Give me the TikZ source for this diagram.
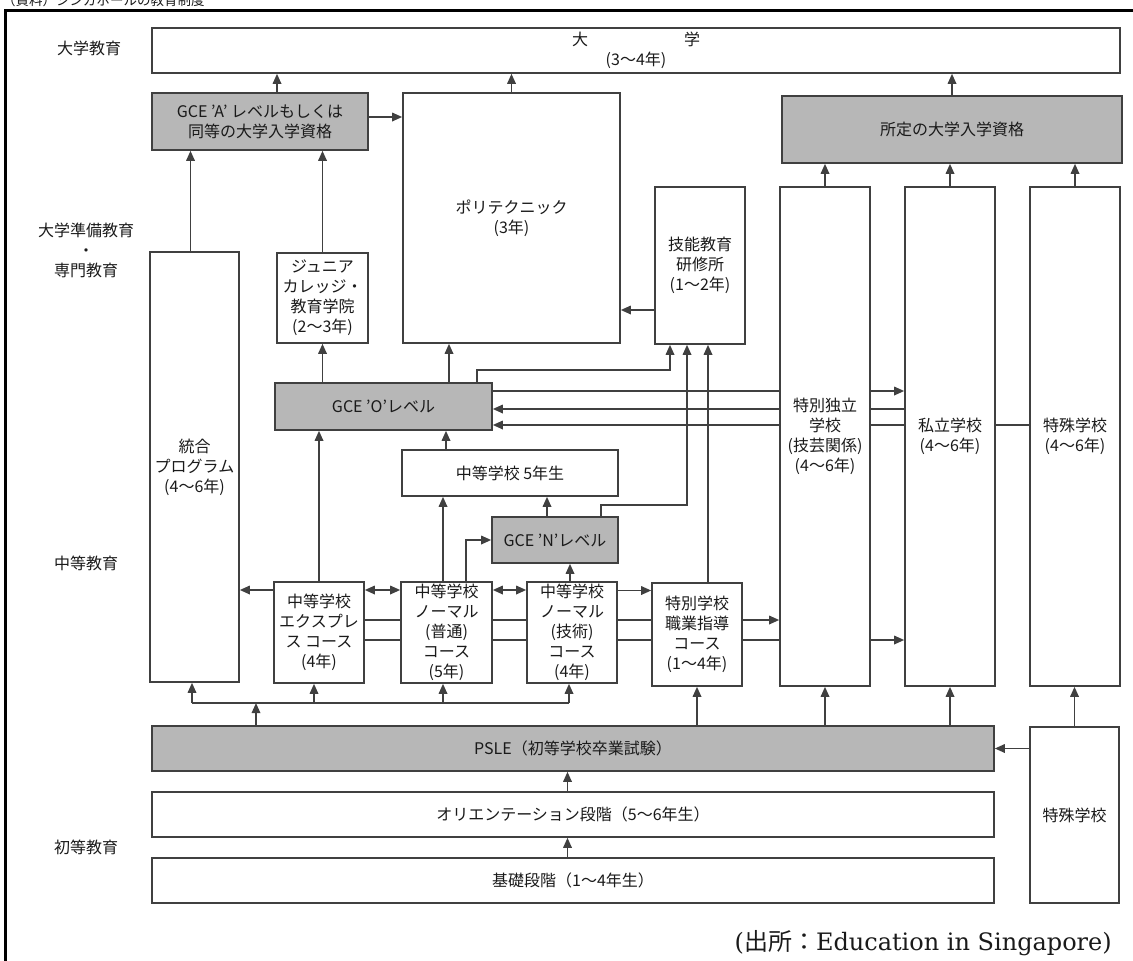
\documentclass[tikz,border=0pt]{standalone}
\usepackage{fontspec}
\setmainfont{Noto Sans CJK JP}
\newfontfamily\serifjp{DejaVu Serif}
\usetikzlibrary{arrows.meta}
\pgfdeclarelayer{bg}
\pgfsetlayers{bg,main}
\definecolor{ln}{HTML}{404040}
\definecolor{gfill}{HTML}{B7B7B7}
\definecolor{tx}{HTML}{1A1A1A}
\tikzset{
 box/.style={draw=ln, line width=1.6pt, fill=white, inner sep=0pt, align=center, text=tx, font=\fontsize{16}{20}\selectfont},
 gbox/.style={box, fill=gfill},
 wh/.style 2 args={minimum width=#1pt, minimum height=#2pt},
 conn/.style={draw=ln, line width=1.7pt},
 arr/.style={conn, -{Triangle[length=10pt,width=8.5pt]}},
 darr/.style={conn, {Triangle[length=10pt,width=8.5pt]}-{Triangle[length=10pt,width=8.5pt]}},
 lab/.style={text=tx, font=\fontsize{16}{20}\selectfont, inner sep=0pt, align=center},
}
\begin{document}
\begin{tikzpicture}[x=1pt,y=-1pt]
\useasboundingbox (0,0) rectangle (1133,961);
\clip (0,0) rectangle (1133,961);
\node[lab, anchor=west, font=\fontsize{13.5}{14}\selectfont] (cap) at (2,0) {（資料）シンガポールの教育制度};
\draw[line width=3pt, black] (5,975) -- (5,10) -- (1145,10);

% left labels
\node[lab] (l1) at (89,48) {大学教育};
\node[lab] (l2) at (86,250) {大学準備教育\\・\\専門教育};
\node[lab] (l3) at (86,563) {中等教育};
\node[lab] (l4) at (86,847) {初等教育};
\node[lab, anchor=east, font=\fontsize{24}{25}\selectfont] (src) at (1112,943) {{\serifjp (}出所：{\serifjp Education in Singapore)}};

% boxes
\node[box, wh={968}{45}] (univ) at (636,50.5) {大\hspace{96pt}学\\(3〜4年)};
\node[gbox, wh={216}{57}] (gceA) at (260,121.5) {GCE 'A' レベルもしくは\\同等の大学入学資格};
\node[box, wh={217}{250}] (poly) at (511.5,218) {ポリテクニック\\(3年)};
\node[box, wh={90}{157}] (ginou) at (700,265.5) {技能教育\\研修所\\(1〜2年)};
\node[gbox, wh={340}{67}] (shotei) at (952,129.5) {所定の大学入学資格};
\node[box, wh={90}{499}] (tokub) at (825,436.5) {特別独立\\学校\\(技芸関係)\\(4〜6年)};
\node[box, wh={90}{499}] (shir) at (950,436.5) {私立学校\\(4〜6年)};
\node[box, wh={90}{499}] (toku) at (1075,436.5) {特殊学校\\(4〜6年)};
\node[box, wh={91}{90}] (jc) at (322.5,298) {ジュニア\\カレッジ・\\教育学院\\(2〜3年)};
\node[box, wh={89}{430}] (tougou) at (194.5,467) {統合\\プログラム\\(4〜6年)};
\node[gbox, wh={217}{47}] (gceO) at (383.5,406.5) {GCE 'O'レベル};
\node[box, wh={216}{46}] (five) at (510,473) {中等学校 5年生};
\node[gbox, wh={126}{46}] (gceN) at (555,540) {GCE 'N'レベル};
\node[box, wh={90}{101}] (exp) at (319,632.5) {中等学校\\エクスプレ\\ス コース\\(4年)};
\node[box, wh={91}{101}] (na) at (446.5,632.5) {中等学校\\ノーマル\\(普通)\\コース\\(5年)};
\node[box, wh={90}{101}] (nt) at (572,632.5) {中等学校\\ノーマル\\(技術)\\コース\\(4年)};
\node[box, wh={90}{103}] (tokuG) at (697,634.5) {特別学校\\職業指導\\コース\\(1〜4年)};
\node[gbox, wh={842}{45}] (psle) at (573,748.5) {PSLE（初等学校卒業試験）};
\node[box, wh={842}{45}] (ori) at (573,814.5) {オリエンテーション段階（5〜6年生）};
\node[box, wh={842}{45}] (kiso) at (573,880.5) {基礎段階（1〜4年生）};
\node[box, wh={89}{176}] (tsmall) at (1074.5,815) {特殊学校};

\coordinate (bus) at (0,703);

\begin{pgfonlayer}{bg}
\draw[arr] ([xshift=17pt]gceA.north) -- ([xshift=17pt]gceA.north |- univ.south);
\draw[arr] ([yshift=4.5pt]gceA.east) -- ([yshift=4.5pt]gceA.east -| poly.west);
\draw[arr] (poly.north) -- (poly.north |- univ.south);
\draw[arr] (shotei.north) -- (shotei.north |- univ.south);
\draw[arr] (tokub.north) -- (tokub.north |- shotei.south);
\draw[arr] (shir.north) -- (shir.north |- shotei.south);
\draw[arr] (toku.north) -- (toku.north |- shotei.south);
\draw[arr] ([xshift=-4pt]tougou.north) -- ([xshift=-4pt]tougou.north |- gceA.south);
\draw[arr] (jc.north) -- (jc.north |- gceA.south);
\draw[arr] (jc.south |- gceO.north) -- (jc.south);
\draw[arr] ([xshift=65.5pt]gceO.north) -- ([xshift=65.5pt]gceO.north |- poly.south);
\draw[arr] ([yshift=-44.5pt]ginou.west) -- ([yshift=-44.5pt]ginou.west -| poly.east);
\draw[arr] ([xshift=93.5pt]gceO.north) -- ++(0,-12) -| ([xshift=-30pt]ginou.south);
\draw[arr] ([xshift=46pt]gceN.north) -- ++(0,-11) -| ([xshift=-13pt]ginou.south);
\draw[arr] ([xshift=8pt]ginou.south |- tokuG.north) -- ([xshift=8pt]ginou.south);
\draw[arr] ([yshift=15.5pt]gceO.east) -- ([yshift=15.5pt]gceO.east -| shir.west);
\draw[arr] ([yshift=-2.5pt]gceO.east -| shir.west) -- ([yshift=-2.5pt]gceO.east);
\draw[arr] ([yshift=-18.5pt]gceO.east -| toku.west) -- ([yshift=-18.5pt]gceO.east);
\draw[arr] ([xshift=-64pt]five.north) -- ([xshift=-64pt]five.north |- gceO.south);
\draw[arr] (exp.north) -- (exp.north |- gceO.south);
\draw[arr] ([xshift=-8pt]gceN.north) -- ([xshift=-8pt]gceN.north |- five.south);
\draw[arr] ([xshift=-3.5pt]na.north) -- ([xshift=-3.5pt]na.north |- five.south);
\draw[arr] ([xshift=19.5pt]na.north) |- (gceN.west);
\draw[arr] ([xshift=-2pt]nt.north) -- ([xshift=-2pt]nt.north |- gceN.south);
\draw[arr] ([yshift=42.5pt]exp.west) -- ([yshift=42.5pt]exp.west -| tougou.east);
\draw[darr] ([yshift=42.5pt]exp.east) -- ([yshift=42.5pt]exp.east -| na.west);
\draw[darr] ([yshift=42.5pt]na.east) -- ([yshift=42.5pt]na.east -| nt.west);
\draw[arr] ([yshift=42pt]nt.east) -- ([yshift=42pt]nt.east -| tokuG.west);
\draw[arr] ([yshift=12.5pt]exp.east) -- ([yshift=12.5pt]exp.east -| tokub.west);
\draw[arr] ([yshift=-7.5pt]exp.east) -- ([yshift=-7.5pt]exp.east -| shir.west);
% distribution from PSLE
\draw[arr] ([xshift=-317pt]psle.north) -- ([xshift=-317pt]psle.north |- bus);
\draw[conn] ([xshift=-2.5pt]tougou.south |- bus) -- ([xshift=-3pt]nt.south |- bus);
\draw[arr] ([xshift=-2.5pt]tougou.south |- bus) -- ([xshift=-2.5pt]tougou.south);
\draw[arr] ([xshift=-5pt]exp.south |- bus) -- ([xshift=-5pt]exp.south);
\draw[arr] ([xshift=-3.5pt]na.south |- bus) -- ([xshift=-3.5pt]na.south);
\draw[arr] ([xshift=-3pt]nt.south |- bus) -- ([xshift=-3pt]nt.south);
\draw[arr] (tokuG.south |- psle.north) -- (tokuG.south);
\draw[arr] (tokub.south |- psle.north) -- (tokub.south);
\draw[arr] (shir.south |- psle.north) -- (shir.south);
\draw[arr] (tsmall.north) -- (tsmall.north |- toku.south);
\draw[arr] (tsmall.west |- psle.east) -- (psle.east);
\draw[arr] ([xshift=-5.5pt]ori.north) -- ([xshift=-5.5pt]ori.north |- psle.south);
\draw[arr] ([xshift=-5.5pt]kiso.north) -- ([xshift=-5.5pt]kiso.north |- ori.south);
\end{pgfonlayer}
\end{tikzpicture}
\end{document}
